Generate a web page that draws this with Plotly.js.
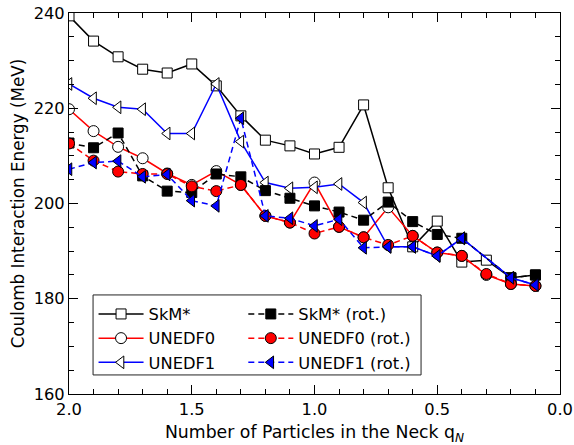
<!DOCTYPE html>
<html>
<head>
<meta charset="utf-8">
<script src="https://cdn.plot.ly/plotly-3.0.1.min.js"></script>
<style>html,body{margin:0;padding:0;background:#fff;}#chart{width:574px;height:445px;}</style>
</head>
<body>
<div id="chart"></div>
<script>
// Number of particles in the neck
const q = [2.0, 1.9, 1.8, 1.7, 1.6, 1.5, 1.4, 1.3, 1.2, 1.1, 1.0, 0.9, 0.8, 0.7, 0.6, 0.5, 0.4, 0.3, 0.2, 0.1];

// Coulomb interaction energy (MeV)
const skm       = [239.4, 234.1, 230.8, 228.2, 227.4, 229.3, 224.7, 218.4, 213.3, 212.1, 210.4, 211.8, 220.7, 203.3, 190.9, 196.3, 187.7, 188.1, 184.4, 185.0];
const unedf0    = [219.8, 215.2, 211.9, 209.5, 206.3, 203.9, 206.8, 203.9, 197.4, 196.0, 204.4, 195.1, 192.9, 199.2, 193.2, 189.7, 189.0, 185.0, 183.1, 182.7];
const unedf1    = [225.1, 222.1, 220.2, 219.8, 214.7, 214.7, 225.1, 213.0, 204.4, 203.2, 203.4, 204.1, 200.2, 190.9, 190.9, 189.0, 192.7, null, 184.4, 182.9];
const skmRot    = [212.7, 211.7, 214.8, 205.8, 202.6, 202.3, 206.2, 205.6, 202.7, 201.1, 199.5, 198.2, 196.5, 200.3, 196.2, 193.5, 192.7, null, 184.4, 185.0];
const unedf0Rot = [212.6, 209.0, 206.7, 206.2, 206.2, 203.6, 202.6, 203.9, 197.4, 196.0, 193.7, 195.1, 192.9, 191.3, 193.2, 189.7, 189.0, 185.2, 183.1, 182.7];
const unedf1Rot = [207.2, 208.6, 208.9, 205.6, 206.1, 200.6, 199.5, 217.9, 197.4, 196.9, 195.3, 196.7, 190.7, 190.9, 190.9, 189.0, 192.7, null, 184.4, 182.9];

const names = ['SkM*', 'UNEDF0', 'UNEDF1', 'SkM* (rot.)', 'UNEDF0 (rot.)', 'UNEDF1 (rot.)'];

const LW = 1.5;
const DASH = '6px,4px';

function tr(y, name, color, dash, symbol, size, fill, legend) {
  return {
    x: q, y: y, name: name, type: 'scatter', mode: 'lines+markers',
    connectgaps: true, cliponaxis: true,
    line: {color: color, width: LW, dash: dash},
    marker: {symbol: symbol, size: size, color: fill, line: {color: 'black', width: 1}},
    legend: legend
  };
}

const data = [
  tr(skm,       names[0], 'black',   'solid', 'square',        10, 'white',   'legend'),
  tr(unedf0,    names[1], '#ff0000', 'solid', 'circle',        11, 'white',   'legend'),
  tr(unedf1,    names[2], '#0000ff', 'solid', 'triangle-left', 11, 'white',   'legend'),
  tr(skmRot,    names[3], 'black',   DASH,    'square',        10, 'black',   'legend2'),
  tr(unedf0Rot, names[4], '#ff0000', DASH,    'circle',        11, '#ff0000', 'legend2'),
  tr(unedf1Rot, names[5], '#0000ff', DASH,    'triangle-left', 11, '#0000ff', 'legend2')
];

const FONT = 'DejaVu Sans, sans-serif';

const axisCommon = {
  ticks: 'inside', ticklen: 9, tickwidth: 1, tickcolor: 'black',
  showline: true, linecolor: 'black', linewidth: 1, mirror: 'allticks',
  showgrid: false, zeroline: false,
  tickfont: {family: FONT, size: 16.3, color: 'black'},
  automargin: false
};

const layout = {
  width: 574, height: 445,
  margin: {l: 69, r: 14, t: 13, b: 51},
  paper_bgcolor: 'white', plot_bgcolor: 'white',
  font: {family: FONT, size: 16, color: 'black'},
  xaxis: Object.assign({}, axisCommon, {
    range: [2.0, 0.0], tick0: 0, dtick: 0.5, tickformat: '.1f',
    minor: {dtick: 0.1, ticks: 'inside', ticklen: 5, tickcolor: 'black', tickwidth: 1, showgrid: false},
    title: {text: 'Number of Particles in the Neck q<sub><i>N</i></sub>', font: {family: FONT, size: 17.3, color: 'black'}, standoff: 19}
  }),
  yaxis: Object.assign({}, axisCommon, {
    range: [160, 240], tick0: 160, dtick: 20,
    minor: {dtick: 5, ticks: 'inside', ticklen: 5, tickcolor: 'black', tickwidth: 1, showgrid: false},
    title: {text: 'Coulomb Interaction Energy (MeV)', font: {family: FONT, size: 16.8, color: 'black'}, standoff: 4}
  }),
  showlegend: true,
  legend: {
    x: 0.05, y: 0.255, xanchor: 'left', yanchor: 'top',
    bgcolor: 'rgba(0,0,0,0)', borderwidth: 0, tracegroupgap: 0, itemwidth: 45,
    font: {family: FONT, size: 16.3, color: 'black'}
  },
  legend2: {
    x: 0.355, y: 0.255, xanchor: 'left', yanchor: 'top',
    bgcolor: 'rgba(0,0,0,0)', borderwidth: 0, tracegroupgap: 0, itemwidth: 45,
    font: {family: FONT, size: 16.3, color: 'black'}
  },
  shapes: [{
    type: 'rect', xref: 'paper', yref: 'paper',
    x0: 0.049, x1: 0.717, y0: 0.05, y1: 0.26,
    line: {color: '#222', width: 1}, fillcolor: 'white', layer: 'below'
  }]
};

Plotly.newPlot('chart', data, layout, {displayModeBar: false, staticPlot: true});
</script>
</body>
</html>
